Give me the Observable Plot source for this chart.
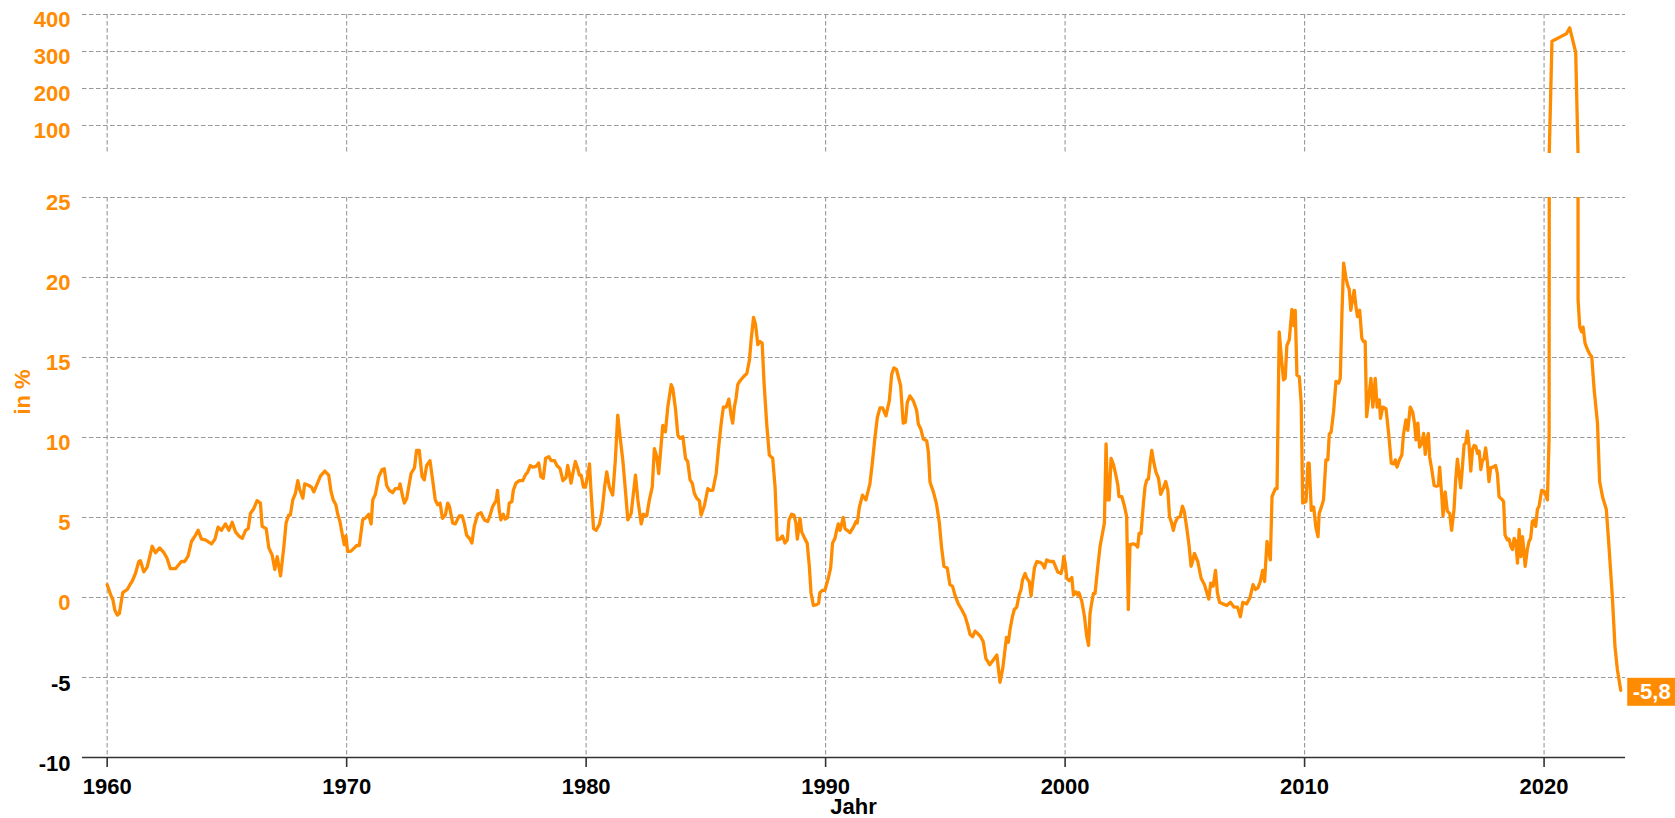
<!DOCTYPE html>
<html>
<head>
<meta charset="utf-8">
<script src="https://cdn.jsdelivr.net/npm/d3@7"></script>
<script src="https://cdn.jsdelivr.net/npm/@observablehq/plot@0.6"></script>
<style>
  html, body { margin: 0; padding: 0; background: #ffffff; }
  body { font-family: "Liberation Sans", Arial, sans-serif; }
  #wrap { position: relative; width: 1675px; height: 818px; overflow: hidden; }
  #wrap svg { position: absolute; left: 0; }
  #wrap svg text { font-weight: 700; }
  .lbl { position: absolute; font-weight: 700; font-size: 22px; white-space: nowrap; }
</style>
</head>
<body>
<div id="wrap"></div>
<script>
// ---- Data (decimal year, growth in %) ----
const s1960 = [[1960.00,0.8],[1960.14,0.2],[1960.24,-0.15],[1960.32,-0.8],[1960.43,-1.1],[1960.51,-1.0],[1960.65,0.3],[1960.84,0.5],[1960.97,0.85],[1961.04,1.0],[1961.18,1.5],[1961.32,2.25],[1961.39,2.3],[1961.53,1.6],[1961.67,1.9],[1961.88,3.2],[1962.02,2.8],[1962.19,3.1],[1962.37,2.8],[1962.50,2.45],[1962.64,1.8],[1962.85,1.8],[1963.10,2.25],[1963.24,2.25],[1963.38,2.6],[1963.52,3.5],[1963.69,3.9],[1963.80,4.2],[1963.94,3.65],[1964.10,3.6],[1964.36,3.35],[1964.50,3.65],[1964.63,4.4],[1964.77,4.2],[1964.94,4.6],[1965.08,4.2],[1965.22,4.7],[1965.36,4.1],[1965.53,3.8],[1965.64,3.7],[1965.78,4.2],[1965.89,4.3],[1965.98,5.25],[1966.12,5.55],[1966.26,6.05],[1966.40,5.9],[1966.47,4.45],[1966.64,4.3],[1966.75,3.1],[1966.89,2.65],[1967.00,1.75],[1967.10,2.55],[1967.24,1.35],[1967.38,3.2],[1967.47,4.65],[1967.58,5.15],[1967.65,5.15],[1967.75,6.1],[1967.86,6.5],[1967.96,7.3],[1968.03,6.8],[1968.17,6.2],[1968.25,7.1],[1968.42,7.0],[1968.53,6.9],[1968.63,6.6],[1968.77,7.1],[1968.91,7.6],[1969.09,7.9],[1969.25,7.65],[1969.35,6.6],[1969.44,6.1],[1969.55,5.8],[1969.62,5.25],[1969.72,4.75],[1969.81,4.0],[1969.90,3.3],[1969.97,3.85]];
const s1970 = [[1970.04,2.87],[1970.18,2.9],[1970.32,3.1],[1970.42,3.25],[1970.53,3.25],[1970.67,4.85],[1970.81,5.0],[1970.92,5.2],[1971.02,4.6],[1971.09,6.1],[1971.20,6.45],[1971.34,7.55],[1971.48,8.0],[1971.57,8.05],[1971.67,7.0],[1971.78,6.7],[1971.92,6.55],[1972.03,6.8],[1972.17,6.8],[1972.23,7.1],[1972.34,6.3],[1972.41,5.9],[1972.51,6.2],[1972.69,7.75],[1972.83,8.1],[1972.92,9.2],[1973.03,9.2],[1973.15,7.55],[1973.24,7.35],[1973.34,8.25],[1973.48,8.55],[1973.59,7.35],[1973.70,6.1],[1973.80,5.8],[1973.90,5.9],[1974.00,4.95],[1974.12,5.15],[1974.22,5.9],[1974.29,5.7],[1974.43,4.65],[1974.54,4.6],[1974.70,5.1],[1974.82,5.1],[1974.91,4.65],[1975.01,3.9],[1975.15,3.65],[1975.23,3.4],[1975.33,4.45],[1975.47,5.2],[1975.61,5.3],[1975.75,4.85],[1975.89,4.75],[1975.98,5.1],[1976.10,5.7],[1976.24,6.05],[1976.30,6.7],[1976.37,5.45],[1976.44,4.85],[1976.54,5.2],[1976.62,4.9],[1976.72,5.0],[1976.79,5.9],[1976.90,6.0],[1976.96,6.7],[1977.07,7.15],[1977.21,7.3],[1977.35,7.3],[1977.46,7.65],[1977.56,7.85],[1977.67,8.25],[1977.77,8.15],[1977.91,8.2],[1978.02,8.4],[1978.11,7.55],[1978.21,7.45],[1978.31,8.7],[1978.44,8.8],[1978.54,8.55],[1978.68,8.55],[1978.78,8.25],[1978.91,8.05],[1979.03,7.3],[1979.16,7.5],[1979.23,8.25],[1979.30,7.75],[1979.37,7.15],[1979.47,7.95],[1979.55,8.5],[1979.65,8.05],[1979.72,7.65],[1979.79,7.65],[1979.89,6.9],[1979.97,6.9]];
const s1980 = [[1980.07,7.65],[1980.14,8.35],[1980.21,6.5],[1980.31,4.3],[1980.42,4.2],[1980.56,4.6],[1980.67,5.45],[1980.77,6.9],[1980.86,7.85],[1980.97,6.9],[1981.11,6.4],[1981.22,8.6],[1981.32,11.4],[1981.42,10.0],[1981.53,8.6],[1981.64,6.7],[1981.74,4.85],[1981.88,5.25],[1982.06,7.65],[1982.16,6.1],[1982.30,4.6],[1982.39,5.2],[1982.53,5.1],[1982.64,6.1],[1982.76,6.9],[1982.85,9.3],[1982.95,8.8],[1983.03,7.75],[1983.13,9.5],[1983.20,10.75],[1983.31,10.35],[1983.41,11.9],[1983.55,13.3],[1983.62,13.05],[1983.73,11.8],[1983.83,10.15],[1983.92,9.95],[1984.04,10.05],[1984.15,8.7],[1984.24,8.5],[1984.34,7.35],[1984.43,7.15],[1984.52,6.5],[1984.62,6.2],[1984.73,6.05],[1984.80,5.15],[1984.94,5.75],[1985.08,6.8],[1985.18,6.7],[1985.29,6.7],[1985.43,7.75],[1985.54,9.5],[1985.64,10.9],[1985.73,11.9],[1985.85,11.9],[1985.96,12.4],[1986.05,11.4],[1986.12,10.9],[1986.19,11.9],[1986.26,12.45],[1986.33,13.3],[1986.43,13.55],[1986.57,13.8],[1986.71,14.0],[1986.82,14.85],[1986.89,16.1],[1986.99,17.5],[1987.07,17.1],[1987.17,15.8],[1987.26,16.0],[1987.35,15.9],[1987.43,13.4],[1987.54,10.85],[1987.65,8.9],[1987.79,8.7],[1987.89,6.9],[1987.98,3.6],[1988.09,3.65],[1988.20,3.85],[1988.30,3.4],[1988.40,3.6],[1988.47,4.85],[1988.58,5.2],[1988.68,5.15],[1988.76,4.65],[1988.82,3.65],[1988.93,4.95],[1989.00,4.1],[1989.14,3.65],[1989.23,3.4],[1989.32,1.95],[1989.39,0.3],[1989.49,-0.5],[1989.62,-0.45],[1989.71,-0.35],[1989.76,0.3],[1989.87,0.45],[1989.97,0.45]];
const s1990 = [[1990.11,1.2],[1990.21,1.85],[1990.29,3.4],[1990.39,3.7],[1990.46,4.2],[1990.53,4.6],[1990.60,4.2],[1990.74,5.0],[1990.81,4.3],[1990.90,4.2],[1991.02,4.05],[1991.16,4.4],[1991.27,4.75],[1991.32,4.65],[1991.41,5.65],[1991.54,6.4],[1991.68,6.1],[1991.85,7.1],[1991.96,8.55],[1992.06,10.0],[1992.16,11.25],[1992.27,11.85],[1992.38,11.85],[1992.52,11.35],[1992.66,12.3],[1992.76,13.95],[1992.85,14.35],[1992.96,14.25],[1993.13,13.25],[1993.24,10.9],[1993.33,10.95],[1993.41,12.2],[1993.52,12.6],[1993.66,12.3],[1993.80,11.7],[1993.87,10.85],[1993.97,10.55],[1994.08,9.9],[1994.22,9.8],[1994.29,9.1],[1994.36,7.2],[1994.50,6.6],[1994.63,5.85],[1994.75,4.65],[1994.84,3.15],[1994.94,1.95],[1995.08,1.85],[1995.19,0.8],[1995.30,0.7],[1995.40,0.15],[1995.54,-0.4],[1995.68,-0.75],[1995.82,-1.15],[1995.93,-1.7],[1996.03,-2.3],[1996.14,-2.45],[1996.24,-2.1],[1996.38,-2.3],[1996.47,-2.45],[1996.58,-2.75],[1996.69,-3.8],[1996.85,-4.2],[1997.00,-3.9],[1997.15,-3.6],[1997.28,-5.3],[1997.40,-4.4],[1997.55,-2.5],[1997.63,-2.8],[1997.70,-2.0],[1997.80,-1.2],[1997.88,-0.75],[1997.98,-0.6],[1998.08,0.15],[1998.16,0.5],[1998.22,1.1],[1998.33,1.5],[1998.40,1.2],[1998.50,1.0],[1998.58,0.1],[1998.64,0.9],[1998.72,1.85],[1998.82,2.25],[1998.96,2.2],[1999.05,2.1],[1999.14,1.85],[1999.23,2.35],[1999.37,2.25],[1999.51,2.25],[1999.61,1.9],[1999.69,1.6],[1999.83,1.5],[1999.90,1.95],[1999.94,2.55]];
const s2000 = [[2000.00,2.2],[2000.07,1.2],[2000.17,1.05],[2000.28,1.25],[2000.35,0.15],[2000.45,0.35],[2000.53,0.15],[2000.58,0.3],[2000.70,-0.25],[2000.81,-1.2],[2000.90,-2.4],[2000.98,-3.0],[2001.04,-1.0],[2001.11,-0.35],[2001.18,0.25],[2001.25,0.25],[2001.36,1.85],[2001.46,3.2],[2001.56,4.0],[2001.64,4.65],[2001.71,9.6],[2001.78,6.1],[2001.84,6.1],[2001.92,8.7],[2002.02,8.3],[2002.12,7.65],[2002.20,7.05],[2002.25,6.3],[2002.37,6.3],[2002.48,5.7],[2002.57,5.05],[2002.64,-0.75],[2002.71,3.3],[2002.85,3.35],[2002.95,3.3],[2003.03,3.15],[2003.09,4.0],[2003.17,4.0],[2003.27,5.9],[2003.34,6.95],[2003.41,7.35],[2003.48,7.4],[2003.55,8.45],[2003.62,9.2],[2003.69,8.55],[2003.79,7.85],[2003.90,7.45],[2003.99,6.45],[2004.11,6.85],[2004.20,7.25],[2004.29,6.7],[2004.36,5.05],[2004.45,4.65],[2004.52,4.2],[2004.59,4.65],[2004.70,5.0],[2004.80,5.05],[2004.90,5.7],[2004.98,5.35],[2005.08,4.35],[2005.18,3.2],[2005.26,1.95],[2005.32,2.25],[2005.40,2.75],[2005.54,2.25],[2005.68,1.2],[2005.82,0.8],[2005.92,0.3],[2006.00,-0.1],[2006.08,0.9],[2006.18,0.7],[2006.28,1.7],[2006.36,0.3],[2006.45,-0.3],[2006.60,-0.4],[2006.75,-0.5],[2006.90,-0.3],[2007.05,-0.6],[2007.20,-0.6],[2007.32,-1.2],[2007.42,-0.3],[2007.58,-0.4],[2007.72,0.0],[2007.85,0.8],[2007.95,0.5],[2008.05,0.6],[2008.15,1.0],[2008.25,1.7],[2008.33,1.0],[2008.43,3.5],[2008.57,2.35],[2008.64,6.3],[2008.78,6.8],[2008.85,6.8],[2008.94,16.6],[2009.03,15.0],[2009.12,13.6],[2009.19,13.7],[2009.26,15.75],[2009.36,16.1],[2009.47,18.0],[2009.54,17.0],[2009.61,17.95],[2009.68,13.9],[2009.78,13.8],[2009.86,12.1],[2009.92,5.9]];
const s2010 = [[2010.06,6.0],[2010.14,8.4],[2010.19,8.4],[2010.28,5.45],[2010.38,5.65],[2010.47,4.4],[2010.56,3.8],[2010.61,5.25],[2010.70,5.65],[2010.79,6.1],[2010.89,8.6],[2010.97,8.6],[2011.03,10.2],[2011.11,10.35],[2011.21,11.6],[2011.31,13.5],[2011.42,13.4],[2011.49,13.7],[2011.56,17.75],[2011.63,20.9],[2011.73,19.95],[2011.81,19.45],[2011.86,19.3],[2011.93,17.95],[2012.00,18.6],[2012.07,19.2],[2012.14,18.25],[2012.21,17.55],[2012.30,17.95],[2012.39,16.2],[2012.46,16.0],[2012.53,16.0],[2012.59,11.3],[2012.67,12.35],[2012.77,13.7],[2012.85,11.9],[2012.95,13.7],[2013.03,11.9],[2013.12,12.35],[2013.17,11.2],[2013.26,11.9],[2013.40,11.8],[2013.51,10.25],[2013.62,8.4],[2013.73,8.35],[2013.79,8.6],[2013.86,8.15],[2013.96,8.6],[2014.06,8.9],[2014.13,10.2],[2014.23,11.1],[2014.31,10.45],[2014.41,11.9],[2014.51,11.6],[2014.59,10.9],[2014.65,9.85],[2014.73,10.9],[2014.80,9.4],[2014.90,9.65],[2014.97,10.25],[2015.04,8.95],[2015.10,9.9],[2015.17,10.25],[2015.22,8.8],[2015.31,8.0],[2015.41,7.0],[2015.50,6.95],[2015.59,7.0],[2015.64,8.15],[2015.73,6.3],[2015.78,5.1],[2015.87,6.6],[2015.96,5.4],[2016.06,5.25],[2016.14,4.2],[2016.24,5.5],[2016.31,7.35],[2016.38,8.65],[2016.45,7.75],[2016.52,6.85],[2016.59,8.15],[2016.66,9.55],[2016.73,9.65],[2016.80,10.4],[2016.87,9.45],[2016.94,7.9],[2017.01,9.25],[2017.08,9.5],[2017.15,9.45],[2017.22,9.0],[2017.29,9.15],[2017.36,8.0],[2017.43,8.6],[2017.49,8.65],[2017.56,9.35],[2017.63,8.5],[2017.70,7.25],[2017.77,8.1],[2017.87,8.15],[2017.98,8.25],[2018.05,7.75],[2018.12,6.3],[2018.23,6.15],[2018.31,6.0],[2018.37,3.9],[2018.47,3.6],[2018.54,3.65],[2018.61,3.2],[2018.68,3.0],[2018.75,3.7],[2018.82,3.5],[2018.89,2.15],[2018.96,4.25],[2019.03,2.55],[2019.10,3.8],[2019.14,3.2],[2019.21,1.95],[2019.30,3.0],[2019.37,3.5],[2019.44,3.7],[2019.51,4.75],[2019.58,4.85],[2019.65,4.45],[2019.72,5.5],[2019.79,5.7],[2019.90,6.7]];
const s2020 = [[2020.00,6.65],[2020.14,6.1],[2020.21,10.05],[2020.33,328],[2020.49,333],[2020.72,341],[2020.93,348],[2021.07,364],[2021.32,298],[2021.42,18.6],[2021.49,16.9],[2021.57,16.6],[2021.63,16.9],[2021.71,15.9],[2021.81,15.5],[2021.91,15.2],[2021.99,15.05],[2022.09,13.0],[2022.23,10.9],[2022.32,7.25],[2022.44,6.3],[2022.60,5.5],[2022.71,3.2],[2022.85,0.05],[2022.96,-3.05],[2023.06,-4.5],[2023.20,-5.8]];

const yearTicks = [1960, 1970, 1980, 1990, 2000, 2010, 2020];
const upperTicks = [100, 200, 300, 400];
const lowerTicksPos = [0, 5, 10, 15, 20, 25];
const lowerTicksNeg = [-5, -10];
const lowerGrid = [-5, 0, 5, 10, 15, 20, 25];
const lastLabel = "-5,8";
const xLabel = "Jahr";
const yLabel = "in %";

// ---- Build table ----
const series = [...s1960, ...s1970, ...s1980, ...s1990, ...s2000, ...s2010, ...s2020]
  .map(([t, v]) => ({t, v}));
const last = series[series.length - 1];

const W = 1675;
const xDomain = [1958.97, 2023.40];
const orange = "#ff8c00";
const grid = {stroke: "#999999", strokeOpacity: 1, strokeWidth: 1.1, strokeDasharray: "4.5,2.5"};
const font = "'Liberation Sans', Arial, sans-serif";

const upperPlot = Plot.plot({
  width: W, height: 170,
  marginTop: 14, marginBottom: 17, marginLeft: 82, marginRight: 50,
  style: {fontFamily: font, background: "transparent"},
  x: {domain: xDomain, axis: null},
  y: {domain: [24.5, 400], axis: null},
  marks: [
    Plot.gridY(upperTicks, grid),
    Plot.gridX(yearTicks, grid),
    Plot.axisY(upperTicks, {tickSize: 0, tickPadding: 12, fontSize: 22, fill: orange, dy: 5, label: null, tickFormat: d => String(d)}),
    Plot.line(series, {x: "t", y: "v", stroke: orange, strokeWidth: 3.3, clip: true, strokeLinejoin: "round"})
  ]
});

const lowerPlot = Plot.plot({
  width: W, height: 648,
  marginTop: 27, marginBottom: 61, marginLeft: 82, marginRight: 50,
  style: {fontFamily: font, background: "transparent", overflow: "visible"},
  x: {domain: xDomain, axis: null},
  y: {domain: [-10, 25], axis: null},
  marks: [
    Plot.gridY(lowerGrid, grid),
    Plot.gridX(yearTicks, grid),
    Plot.ruleY([-10], {stroke: "#333333", strokeWidth: 1.6}),
    Plot.axisX(yearTicks, {tickSize: 10, tickPadding: 11, stroke: "#333333", strokeWidth: 1.6, fontSize: 22, fill: "#000000", label: null, tickFormat: d => String(d)}),
    Plot.axisY(lowerTicksPos, {tickSize: 0, tickPadding: 12, fontSize: 22, fill: orange, dy: 5, label: null, tickFormat: d => String(d)}),
    Plot.axisY(lowerTicksNeg, {tickSize: 0, tickPadding: 12, fontSize: 22, fill: "#000000", dy: 6, label: null, tickFormat: d => String(d)}),
    Plot.line(series, {x: "t", y: "v", stroke: orange, strokeWidth: 3.3, clip: true, strokeLinejoin: "round"}),
    Plot.rect([last], {x1: "t", x2: "t", y1: "v", y2: "v", fill: orange,
      insetLeft: 7, insetRight: -55, insetTop: -12, insetBottom: -16}),
    Plot.text([last], {x: "t", y: "v", text: () => lastLabel, dx: 31, dy: 2, fill: "#ffffff", fontSize: 22, textAnchor: "middle", lineAnchor: "middle"})
  ]
});

const wrap = document.getElementById("wrap");
lowerPlot.style.top = "170px";
upperPlot.style.top = "0px";
wrap.appendChild(lowerPlot);
wrap.appendChild(upperPlot);

const xl = document.createElement("div");
xl.className = "lbl";
xl.textContent = xLabel;
xl.style.left = "82px"; xl.style.width = "1543px"; xl.style.textAlign = "center";
xl.style.top = "797px"; xl.style.lineHeight = "20px"; xl.style.color = "#000";
wrap.appendChild(xl);

const yl = document.createElement("div");
yl.className = "lbl";
yl.textContent = yLabel;
yl.style.left = "23px"; yl.style.top = "392px"; yl.style.lineHeight = "24px";
yl.style.color = orange;
yl.style.transform = "translate(-50%, -50%) rotate(-90deg)";
wrap.appendChild(yl);
</script>
</body>
</html>
